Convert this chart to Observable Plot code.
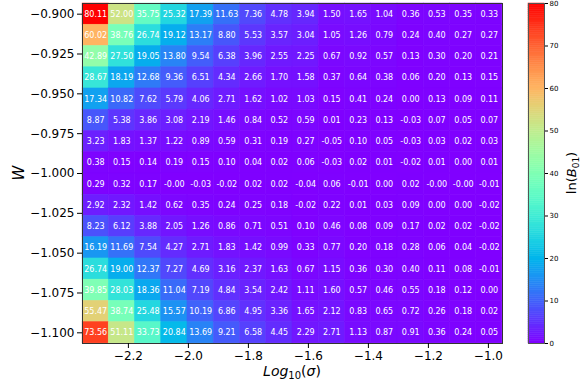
<!DOCTYPE html>
<html><head><meta charset="utf-8">
<script src="https://cdn.jsdelivr.net/npm/d3@7"></script>
<script src="https://cdn.jsdelivr.net/npm/@observablehq/plot@0.6"></script>
<style>
body{margin:0;background:#fff;}
#wrap{position:relative;width:582px;height:387px;font-family:"DejaVu Sans",sans-serif;}
#wrap svg{position:absolute;top:0;left:0;overflow:visible;}
</style></head><body><div id="wrap"></div>
<script>
// Column centres: log10(sigma)
const logSigma = [-2.309,-2.222,-2.134,-2.047,-1.959,-1.872,-1.784,-1.697,-1.609,-1.522,-1.434,-1.347,-1.259,-1.172,-1.084,-0.997];
// Row centres: W (top to bottom)
const W = [-0.900,-0.9133,-0.9267,-0.940,-0.9533,-0.9667,-0.980,-0.9933,-1.0067,-1.020,-1.0333,-1.0467,-1.060,-1.0733,-1.0867,-1.100];
// ln(B01) values, one row per W
const lnB01 = [
 [80.11,52.00,35.75,25.32,17.39,11.63,7.36,4.78,3.94,1.50,1.65,1.04,0.36,0.53,0.35,0.33],
 [60.02,38.76,26.74,19.12,13.17,8.80,5.53,3.57,3.04,1.05,1.26,0.79,0.24,0.40,0.27,0.27],
 [42.89,27.50,19.05,13.80,9.54,6.38,3.96,2.55,2.25,0.67,0.92,0.57,0.13,0.30,0.20,0.21],
 [28.67,18.19,12.68,9.36,6.51,4.34,2.66,1.70,1.58,0.37,0.64,0.38,0.06,0.20,0.13,0.15],
 [17.34,10.82,7.62,5.79,4.06,2.71,1.62,1.02,1.03,0.15,0.41,0.24,0.00,0.13,0.09,0.11],
 [8.87,5.38,3.86,3.08,2.19,1.46,0.84,0.52,0.59,0.01,0.23,0.13,-0.03,0.07,0.05,0.07],
 [3.23,1.83,1.37,1.22,0.89,0.59,0.31,0.19,0.27,-0.05,0.10,0.05,-0.03,0.03,0.02,0.03],
 [0.38,0.15,0.14,0.19,0.15,0.10,0.04,0.02,0.06,-0.03,0.02,0.01,-0.02,0.01,0.00,0.01],
 [0.29,0.32,0.17,-0,-0.03,-0.02,0.02,0.02,-0.04,0.06,-0.01,0.00,0.02,-0,-0,-0.01],
 [2.92,2.32,1.42,0.62,0.35,0.24,0.25,0.18,-0.02,0.22,0.01,0.03,0.09,0.00,0.00,-0.02],
 [8.23,6.12,3.88,2.05,1.26,0.86,0.71,0.51,0.10,0.46,0.08,0.09,0.17,0.02,0.02,-0.02],
 [16.19,11.69,7.54,4.27,2.71,1.83,1.42,0.99,0.33,0.77,0.20,0.18,0.28,0.06,0.04,-0.02],
 [26.74,19.00,12.37,7.27,4.69,3.16,2.37,1.63,0.67,1.15,0.36,0.30,0.40,0.11,0.08,-0.01],
 [39.85,28.03,18.36,11.04,7.19,4.84,3.54,2.42,1.11,1.60,0.57,0.46,0.55,0.18,0.12,0.00],
 [55.47,38.74,25.48,15.57,10.19,6.86,4.95,3.36,1.65,2.12,0.83,0.65,0.72,0.26,0.18,0.02],
 [73.56,51.11,33.73,20.84,13.69,9.21,6.58,4.45,2.29,2.71,1.13,0.87,0.91,0.36,0.24,0.05]
];
const xTicks = [-2.2,-2.0,-1.8,-1.6,-1.4,-1.2,-1.0];
const yTicks = [-0.900,-0.925,-0.950,-0.975,-1.000,-1.025,-1.050,-1.075,-1.100];
const cbarTicks = [0,10,20,30,40,50,60,70,80];
const colorDomain = [0,80];

function edges(c, i){
  const lo = i === 0 ? c[0] - (c[1]-c[0])/2 : (c[i-1]+c[i])/2;
  const hi = i === c.length-1 ? c[i] + (c[i]-c[i-1])/2 : (c[i]+c[i+1])/2;
  return [lo, hi];
}
const cells = [];
W.forEach((w, r) => logSigma.forEach((s, c) => {
  const [x1,x2] = edges(logSigma, c), [y1,y2] = edges(W, r);
  cells.push({x: s, y: w, x1, x2, y1, y2, v: lnB01[r][c]});
}));
const fmt = v => ((v < 0 || Object.is(v,-0)) ? "-" : "") + Math.abs(v).toFixed(2);

// matplotlib "rainbow" colormap
const rainbow = t => {
  t = Math.max(0, Math.min(1, t));
  const r = Math.min(1, Math.abs(2*t - 0.5)), g = Math.sin(Math.PI*t), b = Math.cos(Math.PI*t/2);
  return d3.rgb(r*255, g*255, b*255).formatHex();
};
const color = {type: "linear", domain: colorDomain, interpolate: () => rainbow, clamp: true};

const main = Plot.plot({
  width: 582, height: 387,
  marginLeft: 82, marginRight: 80, marginTop: 3, marginBottom: 44,
  style: {fontFamily: "DejaVu Sans", fontSize: "12px", color: "#000", background: "transparent", overflow: "visible"},
  x: {domain: [-2.353, -0.953]},
  y: {domain: [-1.1067, -0.8933]},
  color,
  marks: [
    Plot.rect(cells, {x1: "x1", x2: "x2", y1: "y1", y2: "y2", fill: "v", stroke: "v", strokeWidth: 0.6}),
    Plot.text(cells, {x: "x", y: "y", text: d => fmt(d.v), fill: "white", fontSize: 8}),
    Plot.frame({stroke: "#333", strokeWidth: 1}),
    Plot.axisX({ticks: xTicks, tickFormat: d3.format(".1f"), tickSize: 5, tickPadding: 3, label: null, fontSize: 12, stroke: "#000"}),
    Plot.axisY({ticks: yTicks, tickFormat: d3.format(".3f"), tickSize: 5, tickPadding: 3, label: null, fontSize: 12, stroke: "#000"})
  ]
});

const stops = d3.range(colorDomain[0], colorDomain[1], 0.5);
const cbar = Plot.plot({
  width: 582, height: 387,
  marginLeft: 528, marginRight: 38, marginTop: 3, marginBottom: 44,
  style: {fontFamily: "DejaVu Sans", fontSize: "7px", color: "#000", background: "transparent", overflow: "visible"},
  x: {domain: [0, 1], axis: null},
  y: {domain: colorDomain},
  color,
  marks: [
    Plot.rect(stops, {x1: () => 0, x2: () => 1, y1: d => d, y2: d => d + 0.5, fill: d => d + 0.25, stroke: d => d + 0.25, strokeWidth: 0.5}),
    Plot.frame({stroke: "#555", strokeWidth: 1}),
    Plot.axisY({anchor: "right", ticks: cbarTicks, tickSize: 3, tickPadding: 2, label: null, fontSize: 7})
  ]
});

const wrap = document.getElementById("wrap");
wrap.appendChild(main);
wrap.appendChild(cbar);

// axis titles
const sm = d3.select(main);
const xl = sm.append("text").attr("x", 292).attr("y", 376).attr("text-anchor", "middle")
  .attr("font-family", "DejaVu Sans").attr("font-size", 14).attr("fill", "#000");
xl.append("tspan").attr("font-style", "italic").text("Log");
xl.append("tspan").attr("font-size", 10).attr("dy", 3).text("10");
xl.append("tspan").attr("dy", -3).text("(");
xl.append("tspan").attr("font-style", "italic").text("σ");
xl.append("tspan").text(")");

sm.append("text").attr("transform", "translate(24,173) rotate(-90)").attr("text-anchor", "middle")
  .attr("font-family", "DejaVu Sans").attr("font-size", 15).attr("font-style", "italic").attr("fill", "#000").text("W");

const sc = d3.select(cbar);
const cl = sc.append("text").attr("transform", "translate(576,173) rotate(-90)").attr("text-anchor", "middle")
  .attr("font-family", "DejaVu Sans").attr("font-size", 13).attr("fill", "#000");
cl.append("tspan").text("ln(");
cl.append("tspan").attr("font-style", "italic").text("B");
cl.append("tspan").attr("font-size", 9).attr("dy", 3).text("01");
cl.append("tspan").attr("dy", -3).text(")");
</script></body></html>
